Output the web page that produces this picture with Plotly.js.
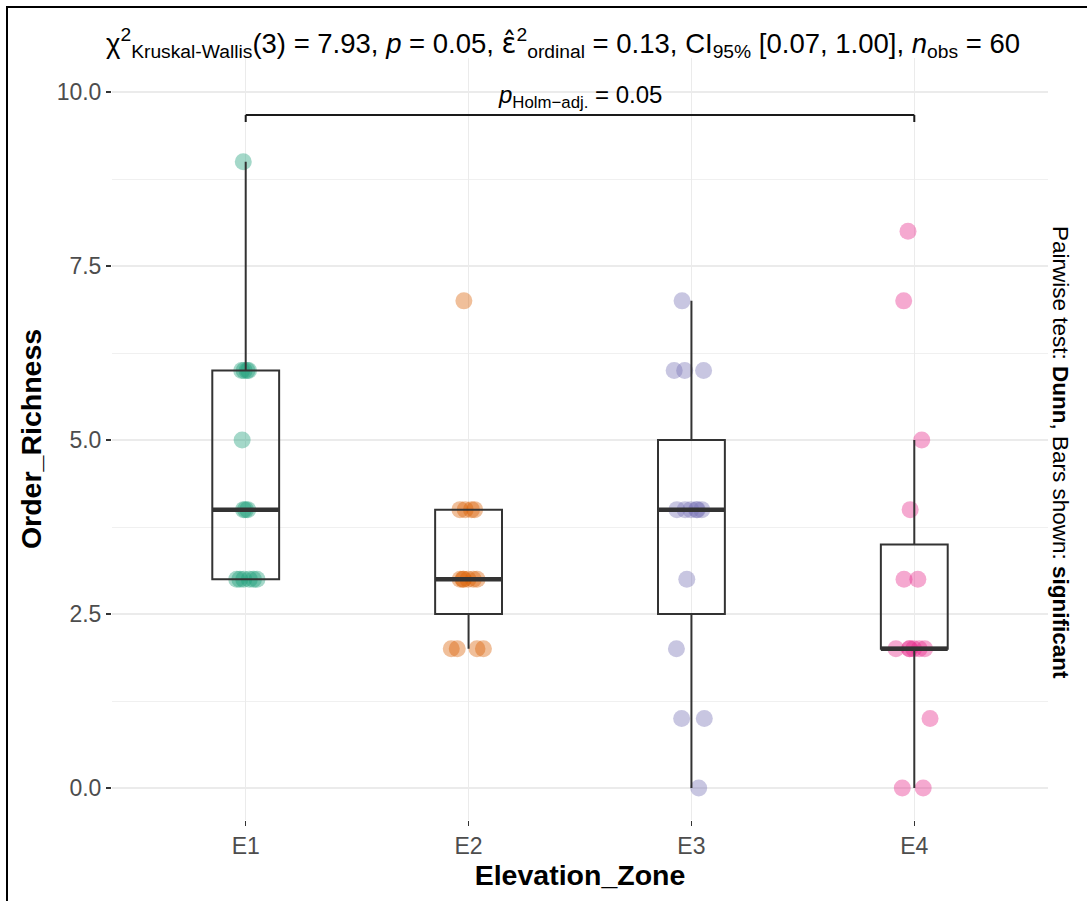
<!DOCTYPE html>
<html><head><meta charset="utf-8">
<script src="https://cdn.plot.ly/plotly-3.0.1.min.js"></script>
<style>
html,body{margin:0;padding:0;background:#fff;overflow:hidden;}
#chart{width:1087px;height:901px;}
#frame{position:absolute;left:6px;top:6px;width:1200px;height:1000px;border-top:2px solid #000;border-left:2px solid #000;pointer-events:none;}
</style></head><body>
<div id="chart"></div><div id="frame"></div>
<script>
// ---- data ----
const zones = ['E1','E2','E3','E4'];
const richnessE1 = [9,6,6,6,6,5,4,4,4,3,3,3,3,3,3];
const richnessE2 = [7,4,4,4,4,3,3,3,3,3,3,2,2,2,2];
const richnessE3 = [7,6,6,6,4,4,4,4,4,4,3,2,1,1,0];
const richnessE4 = [8,7,5,4,3,3,2,2,2,2,2,2,1,0,0];
const boxQ1 = [3,2.5,2.5,2];
const boxMedian = [4,3,4,2];
const boxQ3 = [6,4,5,3.5];
const whiskerLow = [3,2,0,0];
const whiskerHigh = [9,4,7,5];
const zoneColors = ['#1B9E77','#D95F02','#7570B3','#E7298A'];
const pairFrom = 'E1', pairTo = 'E4', pairP = '0.05';
const yTickVals = [0,2.5,5,7.5,10];
const yTickText = ['0.0','2.5','5.0','7.5','10.0'];

const groups = [richnessE1, richnessE2, richnessE3, richnessE4];
const FONT = '"Liberation Sans", Arial, Helvetica, sans-serif';
const BOXW = 0.3;

const traces = [];
groups.forEach((vals, i) => {
  traces.push({
    type:'box', x: vals.map(() => zones[i]), y: vals,
    boxpoints:'all', jitter:0.65, pointpos:0, width:BOXW,
    fillcolor:'rgba(0,0,0,0)', line:{color:'rgba(0,0,0,0)', width:0},
    marker:{color: zoneColors[i], opacity:0.4, size:17, line:{width:0}},
    showlegend:false, hoverinfo:'y'
  });
});
traces.push({
  type:'box', x: zones, q1: boxQ1, median: boxMedian, q3: boxQ3,
  lowerfence: whiskerLow, upperfence: whiskerHigh,
  width: BOXW, whiskerwidth: 0, boxpoints:false,
  fillcolor:'rgba(0,0,0,0)', line:{color:'#333333', width:2},
  showlegend:false, hoverinfo:'skip'
});

const shapes = [];
boxMedian.forEach((m, i) => {
  shapes.push({type:'line', xref:'x', yref:'y', x0:i-BOXW/2, x1:i+BOXW/2, y0:m, y1:m,
    line:{color:'#333333', width:4.5}});
});
const bi = zones.indexOf(pairFrom), bj = zones.indexOf(pairTo);
const bracketY = 9.67, bracketTip = 9.57;
shapes.push({type:'line', xref:'x', yref:'y', x0:bi, x1:bj, y0:bracketY, y1:bracketY, line:{color:'#1a1a1a', width:2}});
shapes.push({type:'line', xref:'x', yref:'y', x0:bi, x1:bi, y0:bracketY, y1:bracketTip, line:{color:'#1a1a1a', width:2}});
shapes.push({type:'line', xref:'x', yref:'y', x0:bj, x1:bj, y0:bracketY, y1:bracketTip, line:{color:'#1a1a1a', width:2}});

const layout = {
  width:1087, height:901,
  margin:{l:112, r:39, t:58, b:81},
  paper_bgcolor:'#fff', plot_bgcolor:'#fff',
  font:{family:FONT, color:'#000'},
  showlegend:false, hovermode:false,
  boxmode:'overlay',
  title:{
    text:'χ<sup>2</sup><sub>Kruskal-Wallis</sub>(3) = 7.93, <i>p</i> = 0.05, <span style="font-family:\'DejaVu Sans\'">ε̂</span><sup>2</sup><sub>ordinal</sub> = 0.13, CI<sub>95%</sub> [0.07, 1.00], <i>n</i><sub>obs</sub> = 60',
    font:{family:FONT, size:27.5, color:'#000'},
    xref:'container', x:106/1087, xanchor:'left',
    yref:'container', y:1-43/901, yanchor:'middle'
  },
  xaxis:{
    type:'category', categoryorder:'array', categoryarray:zones,
    range:[-0.6, 3.6], showgrid:true, gridcolor:'#EBEBEB', gridwidth:1.3,
    zeroline:false, showline:false,
    ticks:'outside', ticklen:5, tickwidth:1.5, tickcolor:'#333333',
    tickfont:{family:FONT, size:23, color:'#4D4D4D'},
    title:{text:'<b>Elevation_Zone</b>', font:{family:FONT, size:28.5, color:'#000'}, standoff:6}
  },
  yaxis:{
    range:[-0.46, 10.49], tickvals:yTickVals, ticktext:yTickText,
    showgrid:true, gridcolor:'#EBEBEB', gridwidth:1.3, zeroline:false, showline:false,
    ticks:'outside', ticklen:5, tickwidth:1.5, tickcolor:'#333333',
    tickfont:{family:FONT, size:23, color:'#4D4D4D'},
    minor:{dtick:1.25, tick0:0, showgrid:true, gridcolor:'#F0F0F0', gridwidth:1},
    title:{text:'<b>Order_Richness</b>', font:{family:FONT, size:28.5, color:'#000'}, standoff:6}
  },
  shapes: shapes,
  annotations:[
    {xref:'x', yref:'y', x:(bi+bj)/2, y:bracketY, yanchor:'bottom', yshift:1, showarrow:false,
     text:'<i>p</i><sub>Holm−adj.</sub> = ' + pairP, font:{family:FONT, size:24, color:'#000'}},
    {xref:'paper', yref:'paper', x:(1061-112)/936, y:(820-452)/762, xanchor:'center', yanchor:'middle',
     showarrow:false, textangle:90,
     text:'Pairwise test: <b>Dunn</b>, Bars shown: <b>significant</b>', font:{family:FONT, size:22.5, color:'#000'}}
  ]
};
Plotly.newPlot('chart', traces, layout, {displayModeBar:false, staticPlot:true});
</script>
</body></html>
